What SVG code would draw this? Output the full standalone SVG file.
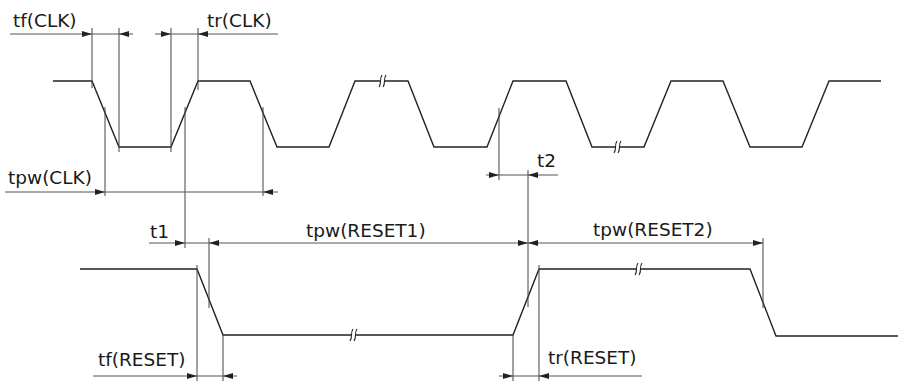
<svg xmlns="http://www.w3.org/2000/svg" width="899" height="383" viewBox="0 0 899 383">
<defs>
<style>
.wave{fill:none;stroke:#222;stroke-width:1.4;stroke-linejoin:miter}
.dim{fill:none;stroke:#555;stroke-width:1}
.ext{fill:none;stroke:#444;stroke-width:1}
.lbl{font-family:"DejaVu Sans",Verdana,sans-serif;font-size:18.5px;fill:#1a1a1a}
.brk{fill:#fff;stroke:none}
.brkl{fill:none;stroke:#222;stroke-width:1.1}
</style>
<marker id="ah" viewBox="0 0 10 6" refX="10" refY="3" markerWidth="10" markerHeight="6" markerUnits="userSpaceOnUse" orient="auto">
<path d="M0,0 L10,3 L0,6 Z" fill="#222"/>
</marker>
<g id="brkmark">
<path class="brk" d="M-4,6 C-1,2 -4,-2 -1,-6 L3,-6 C0,-2 3,2 0,6 Z"/>
<path class="brkl" d="M-4,6 C-1,2 -4,-2 -1,-6 M0,6 C3,2 0,-2 3,-6"/>
</g>
</defs>
<rect width="899" height="383" fill="#fff"/>

<g id="clk">
<polyline class="wave" points="53,81 92,81 119,147 171,147 198,81 250,81 277,147 329,147 355,81 408,81 434,147 487,147 513,81 566,81 592,147 644,147 671,81 723,81 750,147 802,147 829,81 881,81"/>
<use id="clk-break1" href="#brkmark" x="383" y="81"/>
<use id="clk-break2" href="#brkmark" x="618" y="147"/>
</g>

<g id="reset">
<polyline class="wave" points="80,269 197,269 223,335 513,335 539,269 750,269 776,336 898,336"/>
<use id="reset-break1" href="#brkmark" x="354" y="335"/>
<use id="reset-break2" href="#brkmark" x="639" y="269"/>
</g>

<g id="connectors">
<line class="ext" x1="92" y1="28" x2="92" y2="88"/>
<line class="ext" x1="119" y1="28" x2="119" y2="152"/>
<line class="ext" x1="171" y1="28" x2="171" y2="152"/>
<line class="ext" x1="198" y1="28" x2="198" y2="90"/>
<line class="ext" x1="105" y1="107" x2="105" y2="196"/>
<line class="ext" x1="263" y1="107" x2="263" y2="196"/>
<line class="ext" x1="185" y1="107" x2="185" y2="248"/>
<line class="ext" x1="209" y1="238" x2="209" y2="308"/>
<line class="ext" x1="499" y1="108" x2="499" y2="180"/>
<line class="ext" x1="528" y1="170" x2="528" y2="307"/>
<line class="ext" x1="763" y1="238" x2="763" y2="308"/>
<line class="ext" x1="197" y1="265" x2="197" y2="381"/>
<line class="ext" x1="223" y1="335" x2="223" y2="381"/>
<line class="ext" x1="513" y1="335" x2="513" y2="381"/>
<line class="ext" x1="539" y1="265" x2="539" y2="381"/>

<line class="dim" x1="10" y1="34" x2="92" y2="34" marker-end="url(#ah)"/>
<line class="dim" x1="92" y1="34" x2="119" y2="34"/>
<line class="dim" x1="133" y1="34" x2="119" y2="34" marker-end="url(#ah)"/>
<line class="dim" x1="155" y1="34" x2="171" y2="34" marker-end="url(#ah)"/>
<line class="dim" x1="171" y1="34" x2="198" y2="34"/>
<line class="dim" x1="278" y1="34" x2="198" y2="34" marker-end="url(#ah)"/>
<line class="dim" x1="5" y1="192" x2="105" y2="192" marker-end="url(#ah)"/>
<line class="dim" x1="105" y1="192" x2="263" y2="192"/>
<line class="dim" x1="278" y1="192" x2="263" y2="192" marker-end="url(#ah)"/>
<line class="dim" x1="149" y1="243" x2="185" y2="243" marker-end="url(#ah)"/>
<line class="dim" x1="185" y1="243" x2="209" y2="243"/>
<line class="dim" x1="368" y1="243" x2="209" y2="243" marker-end="url(#ah)"/>
<line class="dim" x1="368" y1="243" x2="528" y2="243" marker-end="url(#ah)"/>
<line class="dim" x1="645" y1="243" x2="528" y2="243" marker-end="url(#ah)"/>
<line class="dim" x1="645" y1="243" x2="763" y2="243" marker-end="url(#ah)"/>
<line class="dim" x1="486" y1="175" x2="499" y2="175" marker-end="url(#ah)"/>
<line class="dim" x1="499" y1="175" x2="528" y2="175"/>
<line class="dim" x1="558" y1="175" x2="528" y2="175" marker-end="url(#ah)"/>
<line class="dim" x1="93" y1="376" x2="197" y2="376" marker-end="url(#ah)"/>
<line class="dim" x1="197" y1="376" x2="223" y2="376"/>
<line class="dim" x1="237" y1="376" x2="223" y2="376" marker-end="url(#ah)"/>
<line class="dim" x1="499" y1="376" x2="513" y2="376" marker-end="url(#ah)"/>
<line class="dim" x1="513" y1="376" x2="539" y2="376"/>
<line class="dim" x1="642" y1="376" x2="539" y2="376" marker-end="url(#ah)"/>
</g>

<g id="labels">
<text class="lbl" x="13" y="27">tf(CLK)</text>
<text class="lbl" x="207" y="27">tr(CLK)</text>
<text class="lbl" x="8" y="184">tpw(CLK)</text>
<text class="lbl" x="150" y="238">t1</text>
<text class="lbl" x="306" y="237">tpw(RESET1)</text>
<text class="lbl" x="593" y="236">tpw(RESET2)</text>
<text class="lbl" x="537" y="167">t2</text>
<text class="lbl" x="98" y="366">tf(RESET)</text>
<text class="lbl" x="548" y="364">tr(RESET)</text>
</g>
</svg>
